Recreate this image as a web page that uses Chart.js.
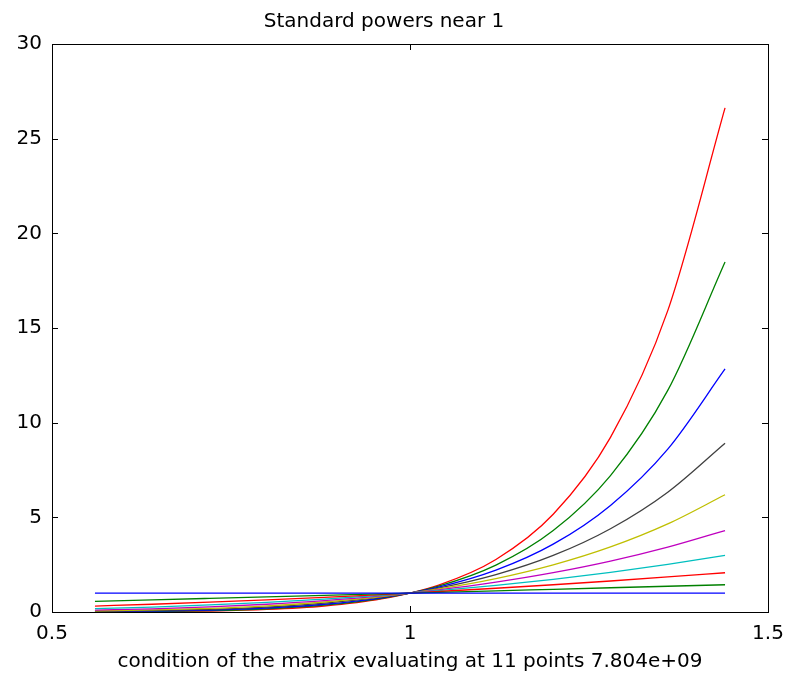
<!DOCTYPE html>
<html>
<head>
<meta charset="utf-8">
<script src="https://cdn.jsdelivr.net/npm/chart.js@4.4.1/dist/chart.umd.min.js"></script>
<style>
  html, body { margin: 0; padding: 0; background: #fff; }
  #wrap { width: 797px; height: 675px; }
</style>
</head>
<body>
<div id="wrap"><canvas id="powersChart" width="797" height="675"></canvas></div>
<script>
// x positions (0.56 .. 1.44)
const xValues = [0.56, 0.64, 0.72, 0.80, 0.88, 0.96, 1.04, 1.12, 1.20, 1.28, 1.36, 1.44];

// one curve per power, lowest to highest
const pow0 = [1, 1, 1, 1, 1, 1, 1, 1, 1, 1, 1, 1];
const pow1 = [0.56, 0.64, 0.72, 0.80, 0.88, 0.96, 1.04, 1.12, 1.20, 1.28, 1.36, 1.44];
const pow2 = [0.314, 0.410, 0.518, 0.640, 0.774, 0.922, 1.082, 1.254, 1.440, 1.638, 1.850, 2.074];
const pow3 = [0.176, 0.262, 0.373, 0.512, 0.682, 0.885, 1.125, 1.405, 1.728, 2.097, 2.516, 2.986];
const pow4 = [0.098, 0.168, 0.269, 0.410, 0.600, 0.849, 1.170, 1.574, 2.074, 2.684, 3.421, 4.300];
const pow5 = [0.055, 0.107, 0.194, 0.328, 0.528, 0.815, 1.217, 1.762, 2.488, 3.436, 4.653, 6.192];
const pow6 = [0.031, 0.069, 0.139, 0.262, 0.464, 0.783, 1.265, 1.974, 2.986, 4.398, 6.328, 8.916];
const pow7 = [0.017, 0.044, 0.100, 0.210, 0.409, 0.751, 1.316, 2.211, 3.583, 5.630, 8.605, 12.839];
const pow8 = [0.010, 0.028, 0.072, 0.168, 0.360, 0.721, 1.369, 2.476, 4.300, 7.206, 11.703, 18.488];
const pow9 = [0.005, 0.018, 0.052, 0.134, 0.316, 0.693, 1.423, 2.773, 5.160, 9.223, 15.917, 26.623];

const seriesList = [pow0, pow1, pow2, pow3, pow4, pow5, pow6, pow7, pow8, pow9];
const seriesColors = ['#0000ff', '#008000', '#ff0000', '#00bfbf', '#bf00bf',
                      '#bfbf00', '#404040', '#0000ff', '#008000', '#ff0000'];

const xTicks = [0.5, 1, 1.5];
const yTicks = [0, 5, 10, 15, 20, 25, 30];

const fontFamily = '"DejaVu Sans", sans-serif';

// matlab style box with inward ticks on all four sides
const boxPlugin = {
    id: 'boxPlugin',
    afterDraw(chart) {
        const { ctx, chartArea: a, scales } = chart;
        ctx.save();
        ctx.strokeStyle = '#000';
        ctx.lineWidth = 1;
        ctx.strokeRect(Math.round(a.left) + 0.5, Math.round(a.top) + 0.5,
                       Math.round(a.right - a.left), Math.round(a.bottom - a.top));
        ctx.beginPath();
        xTicks.forEach(v => {
            const px = Math.round(scales.x.getPixelForValue(v)) + 0.5;
            ctx.moveTo(px, a.bottom); ctx.lineTo(px, a.bottom - 6);
            ctx.moveTo(px, a.top); ctx.lineTo(px, a.top + 6);
        });
        yTicks.forEach(v => {
            const py = Math.round(scales.y.getPixelForValue(v)) + 0.5;
            ctx.moveTo(a.left, py); ctx.lineTo(a.left + 6, py);
            ctx.moveTo(a.right, py); ctx.lineTo(a.right - 6, py);
        });
        ctx.stroke();
        ctx.restore();
    }
};

const ctx = document.getElementById('powersChart').getContext('2d');
new Chart(ctx, {
    type: 'line',
    data: {
        datasets: seriesList.map((vals, i) => ({
            label: 'x^' + i,
            data: vals.map((y, j) => ({ x: xValues[j], y: y })),
            borderColor: seriesColors[i],
            borderWidth: 1.3,
            pointRadius: 0,
            fill: false,
            cubicInterpolationMode: 'monotone'
        }))
    },
    options: {
        responsive: false,
        animation: false,
        layout: { padding: { left: 0, right: 29, top: 0, bottom: 1 } },
        plugins: {
            legend: { display: false },
            tooltip: { enabled: false },
            title: {
                display: true,
                text: 'Standard powers near 1',
                color: '#000',
                font: { family: fontFamily, size: 20, weight: 'normal' },
                padding: { top: 10, bottom: 10 }
            }
        },
        scales: {
            x: {
                type: 'linear',
                min: 0.5,
                max: 1.5,
                afterBuildTicks: s => { s.ticks = xTicks.map(v => ({ value: v })); },
                afterFit: s => { s.height = 62; },
                grid: { display: false, drawTicks: false },
                border: { display: false },
                ticks: {
                    color: '#000',
                    padding: 10,
                    maxRotation: 0,
                    font: { family: fontFamily, size: 20 },
                    callback: v => String(v)
                },
                title: {
                    display: true,
                    text: 'condition of the matrix evaluating at 11 points 7.804e+09',
                    color: '#000',
                    font: { family: fontFamily, size: 20 },
                    padding: { top: 4, bottom: 0 }
                }
            },
            y: {
                min: 0,
                max: 30,
                afterBuildTicks: s => { s.ticks = yTicks.map(v => ({ value: v })); },
                afterFit: s => { s.width = 52; },
                grid: { display: false, drawTicks: false },
                border: { display: false },
                ticks: {
                    color: '#000',
                    padding: 10,
                    font: { family: fontFamily, size: 20 }
                }
            }
        }
    },
    plugins: [boxPlugin]
});
</script>
</body>
</html>
